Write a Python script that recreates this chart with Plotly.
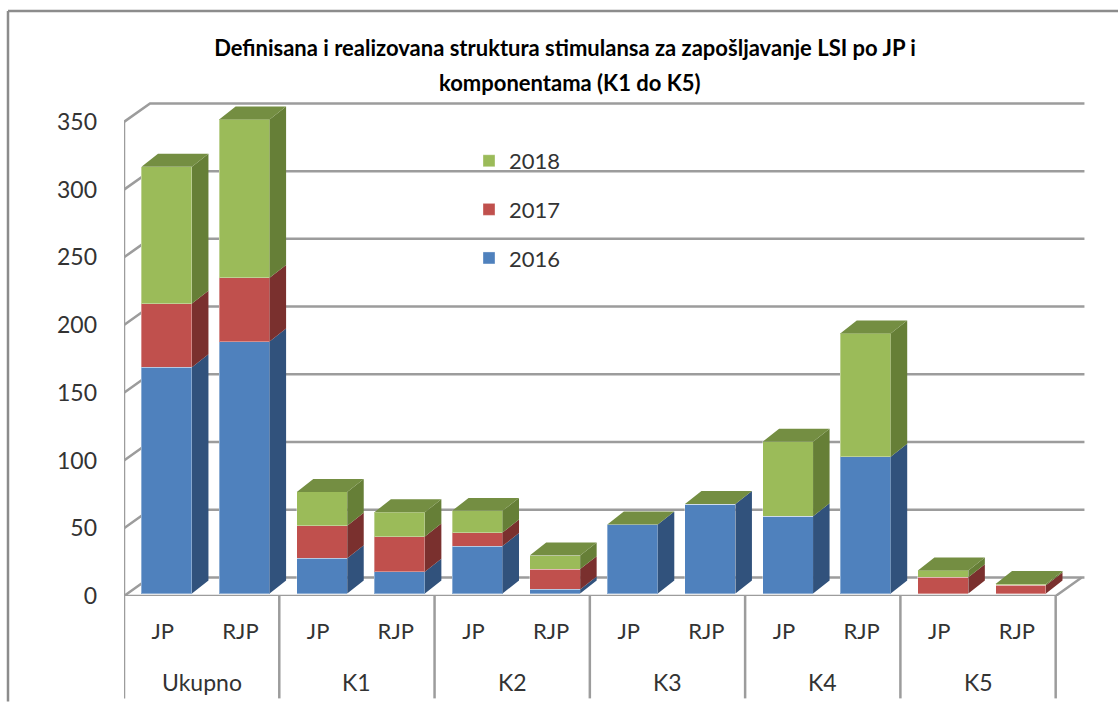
import plotly.graph_objects as go

bar_labels = ["JP", "RJP"] * 6
groups = ["Ukupno", "K1", "K2", "K3", "K4", "K5"]
s2016 = [167, 186, 26, 16, 35, 3, 51, 66, 57, 101, 0, 0]
s2017 = [47, 47, 24, 26, 10, 15, 0, 0, 0, 0, 12, 6]
s2018 = [101, 117, 25, 18, 16, 10, 0, 0, 55, 91, 5, 1]
y_ticks = [0, 50, 100, 150, 200, 250, 300, 350]
title_lines = ["Definisana i realizovana struktura stimulansa za zapošljavanje LSI po JP i",
               "komponentama (K1 do K5)"]

series = [("2016", s2016, "#4F81BD", "#31527C", 3),
          ("2017", s2017, "#C0504D", "#7A302E", 2),
          ("2018", s2018, "#9BBB59", "#667F37", 1)]
TOP = "#748E42"
GRID = "#9C9C9C"
FONT = "Lato, Carlito, sans-serif"
TEXT = "#333333"

# pixel scale of the plot area
W, H = 1118, 702
L, R, T, B = 124, 1086, 102, 596.5
cat_px = 77.64
val_px = 1.356
x_range = [-0.5, -0.5 + (R - L) / cat_px]
y_range = [0, (B - T) / val_px]
bar_dx = 3.9 / cat_px        # bars sit a little inside the floor
bar_dy = 2.5 / val_px
wall_x = 26 / cat_px         # depth of the walls
wall_y = 18.5 / val_px
depth_x = 16.5 / cat_px      # depth of the bars
depth_y = 13 / val_px
bar_w = 0.65

fig = go.Figure()

# walls and floor, on the front axes
gx, gy = [], []
for v in y_ticks:
    gx += [-0.5, -0.5 + wall_x, x_range[1] - 0.02, None]
    gy += [v, v + wall_y, v + wall_y, None]
gx += [-0.5, -0.5, None, -0.5, 11.5, 11.5 + wall_x]
gy += [0, 350, None, 0, 0, wall_y]
fig.add_trace(go.Scatter(x=gx, y=gy, mode="lines", line=dict(color=GRID, width=2.5),
                         hoverinfo="skip", showlegend=False, cliponaxis=False))

# front faces, on the axes shifted to the bar base
n = len(bar_labels)
xs = list(range(n))
for name, vals, col, _, rank in series:
    fig.add_trace(go.Bar(x=xs, y=vals, name=name, width=bar_w, xaxis="x2", yaxis="y2",
                         marker=dict(color=col, line=dict(color="rgba(255,255,255,0.35)", width=1)),
                         legendgroup=name, legendrank=rank))

# side faces and tops
base = [0] * n
for name, vals, col, side, _ in series:
    px, py = [], []
    for k in range(n):
        b, t = base[k], base[k] + vals[k]
        if vals[k] > 0:
            x1 = k + bar_w / 2
            px += [x1, x1 + depth_x, x1 + depth_x, x1, x1, None]
            py += [b, b + depth_y, t + depth_y, t, b, None]
        base[k] = t
    fig.add_trace(go.Scatter(x=px, y=py, mode="lines", fill="toself", fillcolor=side,
                             line=dict(width=0, color=side), xaxis="x2", yaxis="y2",
                             hoverinfo="skip", showlegend=False))
px, py = [], []
for k in range(n):
    x0, x1, t = k - bar_w / 2, k + bar_w / 2, base[k]
    px += [x0, x1, x1 + depth_x, x0 + depth_x, x0, None]
    py += [t, t, t + depth_y, t + depth_y, t, None]
fig.add_trace(go.Scatter(x=px, y=py, mode="lines", fill="toself", fillcolor=TOP,
                         line=dict(width=0, color=TOP), xaxis="x2", yaxis="y2",
                         hoverinfo="skip", showlegend=False))

# multi-level category axis
drop = 102.5 / (B - T)
shapes = [dict(type="line", xref="x", yref="paper", x0=e - 0.5, x1=e - 0.5, y0=0, y1=-drop,
               line=dict(color=GRID, width=2.5)) for e in range(0, n + 1, 2)]
# outer frame of the picture
fx = (8 - L) / (R - L)
fy = (B - 11) / (B - T)
shapes += [
    dict(type="line", xref="paper", yref="paper", x0=fx, x1=(W - L) / (R - L), y0=fy, y1=fy,
         line=dict(color="#8C8C8C", width=2.5)),
    dict(type="line", xref="paper", yref="paper", x0=fx, x1=fx, y0=fy, y1=(B - H) / (B - T),
         line=dict(color="#8C8C8C", width=2.5)),
]
annotations = [dict(x=2 * i + 0.5, xref="x", y=0, yref="paper", yshift=-86, text=g, showarrow=False,
                    yanchor="middle", font=dict(family=FONT, size=23, color=TEXT))
               for i, g in enumerate(groups)]
annotations.append(dict(x=(570 - L) / (R - L), xref="paper", y=(B - 82) / (B - T), yref="paper",
                        text="<b>" + title_lines[1] + "</b>", showarrow=False, yanchor="middle",
                        font=dict(family=FONT, size=22, color="#000000")))

fig.update_layout(
    width=W, height=H, autosize=False,
    margin=dict(l=L, r=W - R, t=T, b=H - B, pad=0),
    paper_bgcolor="white", plot_bgcolor="white",
    barmode="stack", bargap=0.35,
    title=dict(text="<b>" + title_lines[0] + "</b>", x=565 / W, xref="container",
               xanchor="center", y=1 - 48 / H, yanchor="middle",
               font=dict(family=FONT, size=22, color="#000000")),
    xaxis=dict(range=x_range, tickmode="array", tickvals=xs, ticktext=bar_labels,
               showgrid=False, zeroline=False, showline=False, ticks="",
               tickfont=dict(family=FONT, size=22, color=TEXT), ticklabelstandoff=20,
               tickangle=0),
    yaxis=dict(range=y_range, tickmode="array", tickvals=y_ticks,
               showgrid=False, zeroline=False, showline=False, ticks="",
               tickfont=dict(family=FONT, size=23, color=TEXT), ticklabelstandoff=26),
    xaxis2=dict(range=[x_range[0] - bar_dx, x_range[1] - bar_dx], overlaying="x", visible=False),
    yaxis2=dict(range=[y_range[0] - bar_dy, y_range[1] - bar_dy], overlaying="y", visible=False),
    legend=dict(x=(469 - L) / (R - L), y=(B - 140) / (B - T), xanchor="left", yanchor="top",
                traceorder="grouped", tracegroupgap=17, bgcolor="rgba(0,0,0,0)",
                font=dict(family=FONT, size=22, color=TEXT), itemclick=False, itemdoubleclick=False),
    shapes=shapes, annotations=annotations,
)

fig.write_html("out.html", config={"displayModeBar": False},
               post_script="document.body.style.margin='0';document.body.style.overflow='hidden';")
